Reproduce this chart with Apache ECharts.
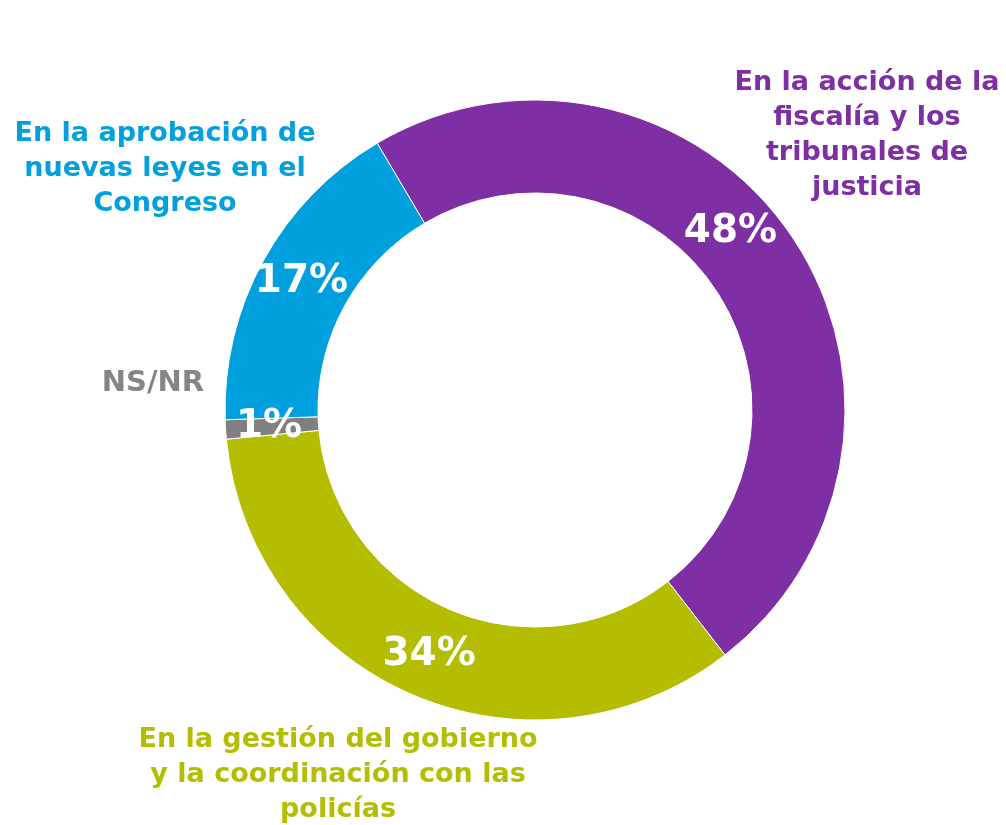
<!DOCTYPE html>
<html>
<head>
<meta charset="utf-8">
<script src="https://cdn.jsdelivr.net/npm/echarts@6/dist/echarts.min.js"></script>
<style>
  html, body { margin: 0; padding: 0; background: #fff; }
  #main { width: 1006px; height: 825px; }
</style>
</head>
<body>
<div id="main"></div>
<script>
// datos del gráfico
var categories = [
  "En la acción de la\nfiscalía y los\ntribunales de\njusticia",
  "En la gestión del gobierno\ny la coordinación con las\npolicías",
  "NS/NR",
  "En la aprobación de\nnuevas leyes en el\nCongreso"
];
var values = [48, 34, 1, 17];
var colors = ["#7f2fa4", "#b5bd00", "#808080", "#00a0df"];

var font = "'DejaVu Sans', sans-serif";
var chart = echarts.init(document.getElementById("main"));

// textos de cada categoría, fuera del anillo
var labelPos = [
  { x: 867, y: 65 },
  { x: 338, y: 722 },
  { x: 153, y: 366 },
  { x: 165, y: 116 }
];

var option = {
  animation: false,
  series: [
    {
      type: "pie",
      center: [535, 410],
      radius: [217, 310],
      startAngle: 120.6,
      clockwise: true,
      itemStyle: { borderColor: "#fff", borderWidth: 1 },
      label: {
        show: true,
        position: "inside",
        formatter: "{c}%",
        color: "#fff",
        fontFamily: font,
        fontWeight: "bold",
        fontSize: 39
      },
      labelLine: { show: false },
      labelLayout: function (params) {
        // el 48% está movido hacia arriba en el original
        if (params.dataIndex === 0) return { dx: -25, dy: -28 };
        return {};
      },
      emphasis: { disabled: true },
      data: categories.map(function (c, i) {
        return { name: c, value: values[i], itemStyle: { color: colors[i] } };
      })
    }
  ],
  graphic: categories.map(function (c, i) {
    return {
      type: "text",
      x: labelPos[i].x,
      y: labelPos[i].y,
      style: {
        text: c,
        fill: colors[i] === "#808080" ? "#858585" : colors[i],
        font: "bold " + (i === 2 ? 29 : 27) + "px " + font,
        align: "center",
        verticalAlign: "top",
        lineHeight: 35
      }
    };
  })
};

chart.setOption(option);
</script>
</body>
</html>
